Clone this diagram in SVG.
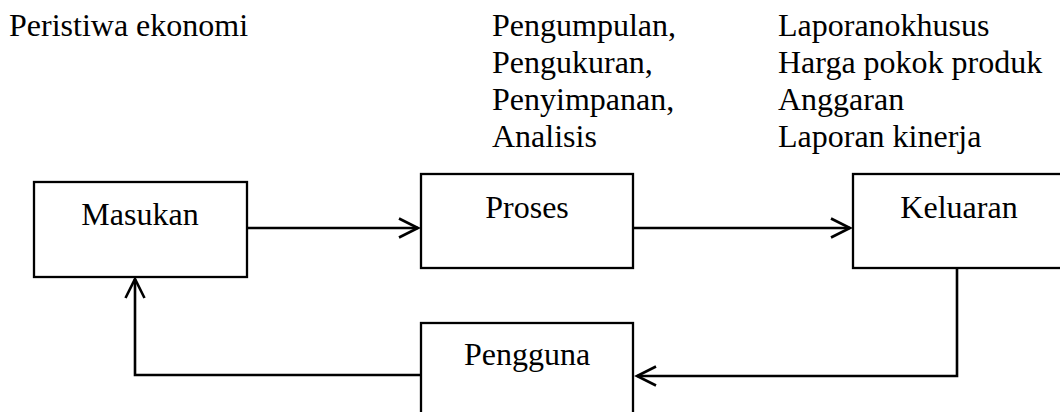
<svg xmlns="http://www.w3.org/2000/svg" width="1060" height="412" viewBox="0 0 1060 412">
<defs>
<style>
text{font-family:'Liberation Serif','Times New Roman','DejaVu Serif',serif;font-size:32px;fill:#000}
.box{fill:#fff;stroke:#000;stroke-width:2.3}
.c{text-anchor:middle}
.ln{fill:none;stroke:#000;stroke-width:2.6}
</style>
<marker id="ah" markerWidth="26" markerHeight="26" viewBox="-23 -13 26 26" refX="0" refY="0" orient="auto" markerUnits="userSpaceOnUse">
<path d="M-19,-9.5 L0,0 L-19,9.5" fill="none" stroke="#000" stroke-width="2.6"/>
</marker>
</defs>
<rect width="1060" height="412" fill="#fff"/>
<g id="labels" font-family="Liberation Serif, serif">
<text x="9" y="36">Peristiwa ekonomi</text>
<text x="492" y="36">Pengumpulan,</text>
<text x="492" y="73">Pengukuran,</text>
<text x="492" y="110">Penyimpanan,</text>
<text x="492" y="147">Analisis</text>
<text x="778" y="36">Laporanokhusus</text>
<text x="778" y="73">Harga pokok produk</text>
<text x="778" y="110">Anggaran</text>
<text x="778" y="147">Laporan kinerja</text>
</g>
<g id="connectors">
<path class="ln" d="M247,228 H418" marker-end="url(#ah)"/>
<path class="ln" d="M633,228 H850" marker-end="url(#ah)"/>
<path class="ln" d="M957,268 V376 H637" marker-end="url(#ah)"/>
<path class="ln" d="M421,375 H135 V279" marker-end="url(#ah)"/>
</g>
<g id="masukan">
<rect class="box" x="34" y="182" width="213" height="95"/>
<text class="c" x="140" y="225">Masukan</text>
</g>
<g id="proses">
<rect class="box" x="421" y="174" width="212" height="94"/>
<text class="c" x="527" y="218">Proses</text>
</g>
<g id="keluaran">
<rect class="box" x="853" y="174" width="212" height="94"/>
<text class="c" x="959" y="218">Keluaran</text>
</g>
<g id="pengguna">
<rect class="box" x="421" y="323" width="212" height="95"/>
<text class="c" x="527" y="365">Pengguna</text>
</g>
</svg>
